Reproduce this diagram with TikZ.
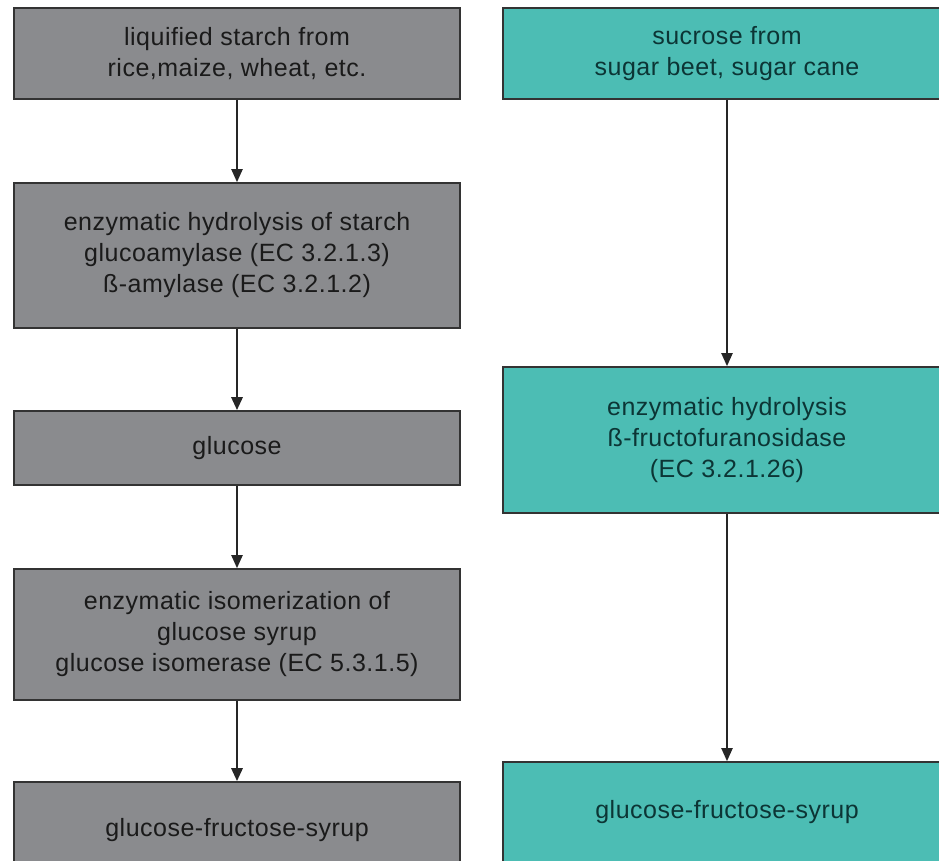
\documentclass[tikz,border=0pt]{standalone}
\usepackage{fontspec}
\setmainfont{Liberation Sans}[LetterSpace=2]
\usetikzlibrary{arrows.meta}
\definecolor{boxgray}{HTML}{8A8B8E}
\definecolor{boxteal}{HTML}{4CBDB4}
\definecolor{edgecol}{HTML}{333333}
\definecolor{graytext}{HTML}{1A1A1A}
\definecolor{tealtext}{HTML}{0C3535}
\begin{document}
\begin{tikzpicture}[x=1pt,y=-1pt,
  box/.style={draw=edgecol, line width=1.6pt, rectangle, inner sep=0pt, align=center, font=\fontsize{25}{31}\selectfont},
  graybox/.style={box, fill=boxgray, text=graytext, minimum width=446pt},
  tealbox/.style={box, fill=boxteal, text=tealtext, minimum width=448pt},
  arr/.style={draw=black!85, line width=2pt, -{Triangle[width=11pt,length=13pt]}},
  arrthick/.style={arr, line width=2.8pt}]
\useasboundingbox (0,0) rectangle (939,861);
\fill[white] (0,0) rectangle (939,861);
\clip (0,0) rectangle (939,861);
% left column
\node[graybox, minimum height=91pt] (L1) at (237,53.5) {liquified starch from\\rice,maize, wheat, etc.};
\node[graybox, minimum height=145pt] (L2) at (237,255.5) {enzymatic hydrolysis of starch\\glucoamylase (EC 3.2.1.3)\\ß-amylase (EC 3.2.1.2)};
\node[graybox, minimum height=74pt] (L3) at (237,448) {glucose};
\node[graybox, minimum height=131pt] (L4) at (237,634.5) {enzymatic isomerization of\\glucose syrup\\glucose isomerase (EC 5.3.1.5)};
\node[graybox, minimum height=96pt] (L5) at (237,830) {glucose-fructose-syrup};
% right column
\node[tealbox, minimum height=91pt] (R1) at (727,53.5) {sucrose from\\sugar beet, sugar cane};
\node[tealbox, minimum height=146pt] (R2) at (727,440) {enzymatic hydrolysis\\ß-fructofuranosidase\\(EC 3.2.1.26)};
\node[tealbox, minimum height=100pt] (R3) at (727,812) {glucose-fructose-syrup};
% connectors
\draw[arr] (L1.south) -- (L2.north);
\draw[arrthick] (L2.south) -- (L3.north);
\draw[arr] (L3.south) -- (L4.north);
\draw[arrthick] (L4.south) -- (L5.north);
\draw[arr] (R1.south) -- (R2.north);
\draw[arr] (R2.south) -- (R3.north);
\end{tikzpicture}
\end{document}
